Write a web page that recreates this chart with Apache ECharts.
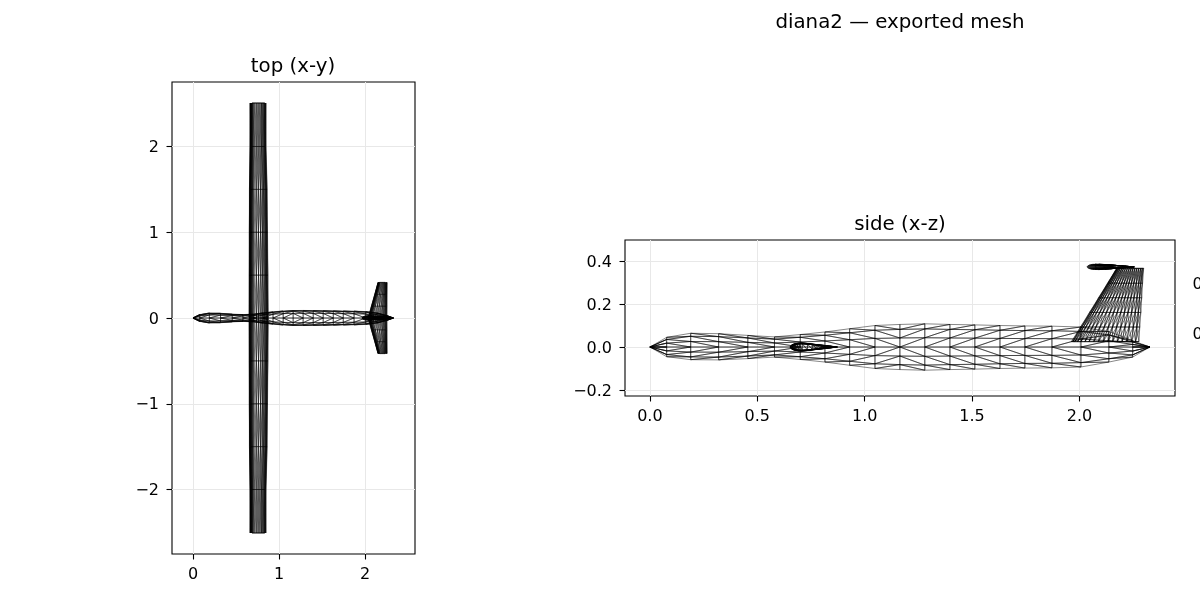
<!DOCTYPE html>
<html><head><meta charset="utf-8">
<style>html,body{margin:0;padding:0;background:#fff;overflow:hidden}#c{width:1200px;height:600px}</style>
<script src="https://cdn.jsdelivr.net/npm/echarts@6/dist/echarts.min.js"></script>
</head><body><div id="c"></div>
<script>
// fuselage stations
const fuseX      = [0, 0.078, 0.19, 0.32, 0.456, 0.58, 0.70, 0.815, 0.93, 1.048, 1.164, 1.28, 1.397, 1.513, 1.63, 1.746, 1.872, 2.007, 2.137, 2.248, 2.328];
const fuseTop    = [0, 0.045, 0.064, 0.062, 0.054, 0.047, 0.058, 0.070, 0.085, 0.100, 0.105, 0.108, 0.105, 0.103, 0.100, 0.098, 0.097, 0.093, 0.072, 0.030, 0];
const fuseBottom = [0, 0.045, 0.059, 0.060, 0.054, 0.047, 0.058, 0.070, 0.085, 0.100, 0.105, 0.108, 0.105, 0.103, 0.100, 0.098, 0.097, 0.093, 0.070, 0.047, 0];
const fuseWidth  = [0, 0.040, 0.058, 0.055, 0.045, 0.040, 0.045, 0.060, 0.072, 0.082, 0.087, 0.088, 0.087, 0.086, 0.084, 0.082, 0.080, 0.075, 0.060, 0.030, 0];
const ringY = [1, .92, .62, 0, -.62, -.92, -1, -.92, -.62, 0, .62, .92];
const ringZ = [0, .4, .78, 1, .78, .4, 0, -.4, -.78, -1, -.78, -.4];
const ringPole = [0, 1, 2, 3, 2, 1, 0, 1, 2, 3, 2, 1];
const fuseFlipStation = 10;
// main wing
const wingFrac = [0, .02, .05, .08, .12, .17, .25, .38, .5, .62, .72, .8, .87, .92, .96, 1];
const wingHalf = [0, .03, .05, .06, .07, .078, .08, .072, .058, .045, .034, .025, .016, .01, .005, 0];
const wingSpan = [-2.507, -2, -1.5, -1, -0.5, 0, 0.5, 1, 1.5, 2, 2.507];
const wingLE   = [0.663, 0.663, 0.656, 0.654, 0.653, 0.652, 0.653, 0.654, 0.656, 0.663, 0.663];
const wingTE   = [0.849, 0.849, 0.862, 0.866, 0.871, 0.875, 0.871, 0.866, 0.862, 0.849, 0.849];
// fin
const finFrac = [0, .02, .05, .09, .14, .2, .26, .33, .4, .47, .54, .61, .68, .75, .82, .89, .95, 1];
const finHalf = [0, .03, .05, .065, .075, .08, .08, .076, .07, .062, .054, .046, .038, .03, .02, .012, .005, 0];
const finZ  = [0.025, 0.093, 0.161, 0.229, 0.297, 0.366];
const finLE = [1.963, 2.005, 2.047, 2.089, 2.131, 2.173];
const finTE = [2.277, 2.281, 2.286, 2.290, 2.294, 2.299];
// tailplane
const tailFrac = [0, .02, .05, .08, .12, .17, .25, .38, .5, .62, .72, .8, .87, .92, .96, 1];
const tailHalf = [0, .022, .036, .045, .052, .056, .058, .05, .038, .028, .02, .014, .009, .006, .003, 0];
const tailZ = 0.373;
const tailSpan = [-0.415, -0.276, -0.138, 0, 0.138, 0.276, 0.415];
const tailLE   = [2.150, 2.112, 2.073, 2.035, 2.073, 2.112, 2.150];
const tailTE   = [2.255, 2.255, 2.255, 2.255, 2.255, 2.255, 2.255];
// tick labels
const topXTicks = [0, 1, 2];
const topYTicks = [-2, -1, 0, 1, 2];
const sideXTicks = [0, 0.5, 1, 1.5, 2];
const sideYTicks = [-0.2, 0, 0.2, 0.4];
const rearYTicks = [0, 0.2];

// fuselage
function fuselageSegs() {
  const segs = [];
  fuseX.forEach((x, i) => {
    const ring = (s, k) => [fuseX[s], fuseWidth[s] * ringY[k], (ringZ[k] >= 0 ? fuseTop[s] : fuseBottom[s]) * ringZ[k]];
    for (let k = 0; k < 12; k++) {
      const n = (k + 1) % 12;
      segs.push([ring(i, k), ring(i, n)]);
      if (i < fuseX.length - 1) {
        segs.push([ring(i, k), ring(i + 1, k)]);
        const p = ringPole[k] > ringPole[n] ? k : n, e = p === k ? n : k;
        if (i < fuseFlipStation) segs.push([ring(i, p), ring(i + 1, e)]);
        else segs.push([ring(i, e), ring(i + 1, p)]);
      }
    }
  });
  return segs;
}

// lifting surfaces
function loft(frac, half, n, le, te, place) {
  const segs = [];
  const m = frac.length;
  const pt = (i, j) => {
    const upper = j < m;
    const f = upper ? j : 2 * m - 2 - j;
    const c = te[i] - le[i];
    return place(i, le[i] + frac[f] * c, (upper ? 1 : -1) * half[f] * c);
  };
  const count = 2 * m - 2;
  for (let i = 0; i < n; i++) for (let j = 0; j < count; j++) {
    const k = (j + 1) % count;
    segs.push([pt(i, j), pt(i, k)]);
    if (i < n - 1) { segs.push([pt(i, j), pt(i + 1, j)]); segs.push([pt(i, j), pt(i + 1, k)]); }
  }
  [0, n - 1].forEach(i => {
    for (let f = 1; f < m - 1; f++) {
      segs.push([pt(i, f), pt(i, count - f)]);
      segs.push([pt(i, f), pt(i, count - f - 1)]);
    }
  });
  return segs;
}
const parts = [
  { segs: fuselageSegs(), style: { color: '#000', width: 0.7, opacity: 0.68 } },
  { segs: loft(wingFrac, wingHalf, wingSpan.length, wingLE, wingTE, (i, x, t) => [x, wingSpan[i], t]), style: { color: '#000', width: 0.5, opacity: 0.85 } },
  { segs: loft(finFrac, finHalf, finZ.length, finLE, finTE, (i, x, t) => [x, t, finZ[i]]), style: { color: '#000', width: 0.6, opacity: 0.85 } },
  { segs: loft(tailFrac, tailHalf, tailSpan.length, tailLE, tailTE, (i, x, t) => [x, tailSpan[i], tailZ + t]), style: { color: '#000', width: 0.45, opacity: 0.85 } }
];

const series = [];
parts.forEach(part => {
  const top = [], side = [];
  part.segs.forEach(([a, b]) => {
    top.push([a[0], a[1]], [b[0], b[1]], ['-', '-']);
    side.push([a[0], a[2]], [b[0], b[2]], ['-', '-']);
  });
  [[0, top], [1, side]].forEach(([g, data]) => series.push({
    type: 'line', xAxisIndex: g, yAxisIndex: g, data, showSymbol: false, symbol: 'none',
    silent: true, lineStyle: part.style, connectNulls: false
  }));
});

const FONT = 'DejaVu Sans';
const fmtMinus = d => v => (v < 0 ? '\u2212' : '') + Math.abs(v).toFixed(d);
function axis(idx, ticks, min, max, d, margin, shifted) {
  const label = { fontFamily: FONT, fontSize: 16, color: '#000' };
  return {
    type: 'value', gridIndex: idx, min, max, scale: true,
    axisLine: { show: false, onZero: false },
    axisTick: { show: true, length: 5.5, customValues: ticks, lineStyle: { color: '#000', width: 1.1 } },
    axisLabel: Object.assign({
      customValues: ticks, color: '#000', fontFamily: FONT, fontSize: 16, margin,
      showMinLabel: true, showMaxLabel: true,
      formatter: shifted ? (v => '{a|' + fmtMinus(d)(v) + '}') : fmtMinus(d)
    }, shifted ? { rich: { a: Object.assign({ padding: [3, 0, 0, 0] }, label) } } : {}),
    splitLine: { show: true, lineStyle: { color: '#e8e8e8', width: 1 } }
  };
}
const titleStyle = { fontFamily: FONT, fontSize: 19.8, fontWeight: 'normal', color: '#000' };
const option = {
  animation: false,
  backgroundColor: '#fff',
  title: [
    { text: 'diana2 \u2014 exported mesh', left: 900, top: 23, padding: 0, textAlign: 'center', textVerticalAlign: 'middle', textStyle: titleStyle },
    { text: 'top (x-y)', left: 293, top: 67, padding: 0, textAlign: 'center', textVerticalAlign: 'middle', textStyle: titleStyle },
    { text: 'side (x-z)', left: 900, top: 225, padding: 0, textAlign: 'center', textVerticalAlign: 'middle', textStyle: titleStyle }
  ],
  grid: [
    { left: 172, top: 82, width: 243, height: 472, show: true, borderColor: '#000', borderWidth: 1.1, containLabel: false },
    { left: 625, top: 240, width: 550, height: 156, show: true, borderColor: '#000', borderWidth: 1.1, containLabel: false },
    { left: 1231, top: 235.5, width: 200, height: 122.5, show: false, containLabel: false }
  ],
  xAxis: [
    axis(0, topXTicks, -0.244, 2.58, 0, 13, false),
    axis(1, sideXTicks, -0.116, 2.445, 1, 13, false),
    { type: 'value', gridIndex: 2, min: -0.45, max: 0.45, show: false }
  ],
  yAxis: [
    axis(0, topYTicks, -2.752, 2.752, 0, 13, true),
    axis(1, sideYTicks, -0.228, 0.498, 1, 13, true),
    Object.assign(axis(2, rearYTicks, -0.1, 0.39, 1, 13, true), { splitLine: { show: false } })
  ],
  series
};
const chart = echarts.init(document.getElementById('c'), null, { renderer: 'canvas' });
chart.setOption(option);
</script></body></html>
